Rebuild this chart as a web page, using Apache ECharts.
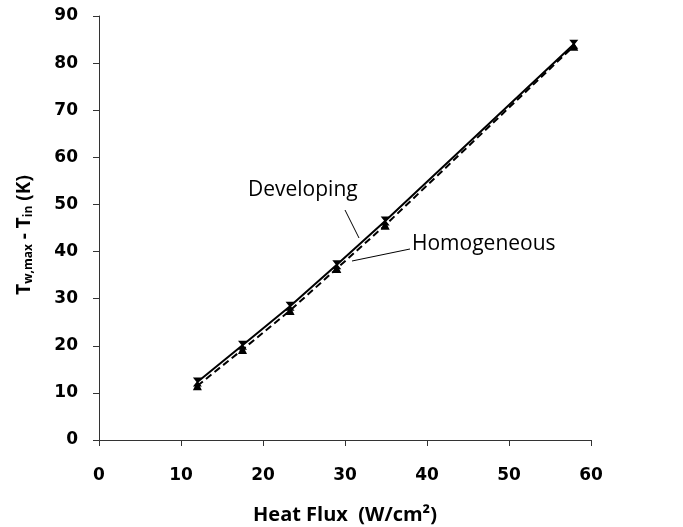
<!DOCTYPE html>
<html>
<head>
<meta charset="utf-8">
<script src="https://cdn.jsdelivr.net/npm/echarts@6/dist/echarts.min.js"></script>
<style>html,body{margin:0;padding:0;background:#fff;}#c{width:683px;height:527px;}</style>
</head>
<body>
<div id="c"></div>
<script>
var xDeveloping = [12.0, 17.5, 23.3, 29.0, 34.9, 57.9];
var yDeveloping = [12.3, 20.1, 28.4, 37.2, 46.5, 84.0];
var xHomogeneous = [12.0, 17.5, 23.3, 29.0, 34.9, 57.9];
var yHomogeneous = [11.5, 19.2, 27.5, 36.4, 45.6, 83.6];
var xTicks = [0, 10, 20, 30, 40, 50, 60];
var yTicks = [0, 10, 20, 30, 40, 50, 60, 70, 80, 90];

function pairs(xs, ys){ return xs.map(function(x,i){return [x, ys[i]];}); }

var chart = echarts.init(document.getElementById('c'));
var tickFont = {fontFamily:'DejaVu Sans', fontWeight:'bold', fontSize:17, color:'#000'};
chart.setOption({
  animation:false,
  backgroundColor:'#fff',
  grid:{left:99, right:92, top:16, bottom:87, containLabel:false, outerBoundsMode:'none'},
  xAxis:{
    type:'value', min:xTicks[0], max:xTicks[xTicks.length-1], interval:10,
    axisLine:{show:true, onZero:false, lineStyle:{color:'#333', width:1}},
    axisTick:{show:true, length:6, lineStyle:{color:'#333'}},
    splitLine:{show:false},
    axisLabel:Object.assign({margin:27}, tickFont),
    name:'Heat Flux  (W/cm²)', nameLocation:'middle', nameGap:65,
    nameTextStyle:{fontFamily:'Open Sans', fontWeight:'bold', fontSize:20, color:'#000'}
  },
  yAxis:{
    type:'value', min:yTicks[0], max:yTicks[yTicks.length-1], interval:10,
    axisLine:{show:true, onZero:false, lineStyle:{color:'#333', width:1}},
    axisTick:{show:true, length:6, lineStyle:{color:'#333'}},
    splitLine:{show:false},
    axisLabel:Object.assign({margin:21}, tickFont),
    name:'{m|T}{s|w,max}{m| - T}{s|in}{m| (K)}', nameLocation:'middle', nameGap:64,
    nameTextStyle:{
      padding:[0,14,0,0],
      rich:{
        m:{fontFamily:'Open Sans', fontWeight:'bold', fontSize:19, color:'#000'},
        s:{fontFamily:'Open Sans', fontWeight:'bold', fontSize:12, color:'#000', verticalAlign:'bottom', padding:[9,0,0,0]}
      }
    }
  },
  series:[
    {
      name:'Developing', type:'line', data:pairs(xDeveloping, yDeveloping),
      lineStyle:{color:'#000', width:2, type:'solid'},
      symbol:'path://M0,0 L10,0 L6,5 L10,10 L0,10 L4,5Z', symbolSize:9,
      itemStyle:{color:'#000'}, z:3
    },
    {
      name:'Homogeneous', type:'line', data:pairs(xHomogeneous, yHomogeneous),
      lineStyle:{color:'#000', width:2, type:[7,4]},
      symbol:'triangle', symbolSize:9,
      itemStyle:{color:'#000'}, z:2
    }
  ],
  graphic:[
    {type:'text', left:248, top:180, style:{text:'Developing', font:'21px "Open Sans"', fill:'#000'}},
    {type:'line', shape:{x1:345, y1:210, x2:359, y2:238}, style:{stroke:'#000', lineWidth:1}},
    {type:'text', left:412, top:234, style:{text:'Homogeneous', font:'21px "Open Sans"', fill:'#000'}},
    {type:'line', shape:{x1:410, y1:249, x2:352, y2:261}, style:{stroke:'#000', lineWidth:1}}
  ]
});
</script>
</body>
</html>
